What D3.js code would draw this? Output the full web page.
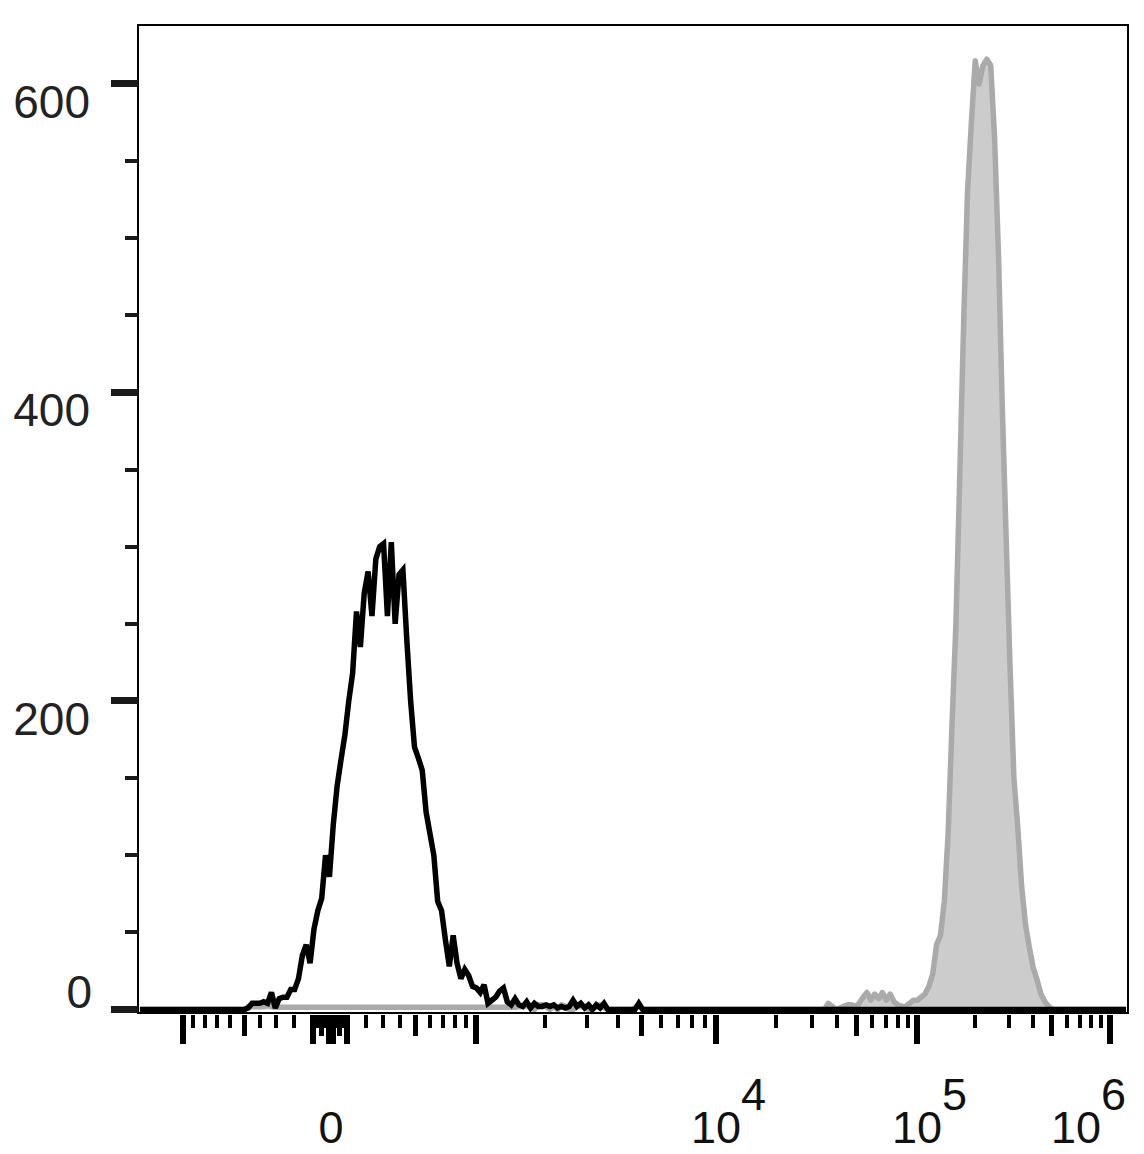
<!DOCTYPE html>
<html><head><meta charset="utf-8">
<script src="https://cdn.jsdelivr.net/npm/d3@7"></script>
<style>body{margin:0;background:#fff}svg{display:block}</style>
</head><body>
<svg id="chart" width="1144" height="1154"></svg>
<script>
// ---------------- data ----------------
const nBins = 256;                 // histogram channels across the display
const blackStart = 27;             // first channel listed for the black (control) histogram
const blackCounts = [0,1,4,4,4,5,4,11,1,7,8,8,13,13,20,35,42,30,52,64,72,100,86,120,145,162,178,200,218,258,235,270,284,255,292,300,302,255,303,250,282,285,240,200,170,163,155,128,114,100,70,64,45,28,48,30,20,26,22,15,14,11,16,4,6,8,12,14,5,3,7,3,2,5,1,4,2,2,3,2,3,1,2,1,2,6,2,4,1,3,0,3,1,4,0,0,0,0,0,0,0,0,4,0];
const grayLowStart = 28;           // stained sample, low-intensity events
const grayLowCounts = [2,2,2,2,2,3,2,1.5,1.5,1.5,1.5,1.5,1.5,1.5,1.5,1.5,1.5,1.5,1.5,1.5,1.5,1.5,1.5,1.5,1.5,1.5,1.5,1.5,1.5,1.5,1.5,1.5,1.5,1.5,1.5,1.5,1.5,1.5,1.5,1.5,1.5,1.5,1.5,1.5,1.5,1.5,1.5,1.5,1.5,1.5,1.5,1.5,1.5,1.5,1.5,1.5,1.5,1.5,1.5,1.5,1.5,1.5,1.5,1.5,1.5,1.5,1.5,1.5,1.5,1.5,2,2,3,1,0,3,3,2,0,2,0,3,2,0,0,2,3,1,0,0,2,3,1,0,0,0,0,0,0,0,1,3,0];
const grayPeakStart = 178;         // stained sample, positive peak
const grayPeakCounts = [4,2,0,1,2,3,3,2,4,8,11,6,10,7,11,6,10,5,3,2,2,4,6,6,8,10,15,23,42,48,70,115,185,250,346,445,530,575,615,600,612,616,612,565,490,390,305,222,150,118,80,55,40,27,19,10,5,2,0];

const yMajorTicks = [0,200,400,600];
const yMinorTicks = [50,100,150,250,300,350,450,500,550];
const xLabelValues = [0,1e4,1e5,1e6];
const xLabelBase = ["0","10","10","10"];
const xLabelExp = ["","4","5","6"];
// biexponential display: anchor decades on the axis
const xAnchorValues = [-1000,-100,0,100,1000,1e4,1e5,1e6];
const xAnchorPixels = [183,313,331,347,476,716,917,1110];

// ---------------- layout ----------------
const plotL = 138, plotR = 1128, plotT = 25, zeroY = 1009.5;
const font = "Arial, 'Liberation Sans', Helvetica, sans-serif";
const svg = d3.select("#chart");

function series(start, counts){
  const arr = new Array(nBins).fill(0);
  counts.forEach((c,i)=>{ arr[start+i] = c; });
  return arr.map((c,i)=>({i, c}));
}
const blackData = series(blackStart, blackCounts);
const grayArr = new Array(nBins).fill(0);
grayLowCounts.forEach((c,i)=>grayArr[grayLowStart+i]=c);
grayPeakCounts.forEach((c,i)=>grayArr[grayPeakStart+i]=c);
const grayData = grayArr.map((c,i)=>({i,c}));

const xBin = d3.scaleLinear().domain([0, nBins]).range([plotL, plotR]);
const y = d3.scaleLinear().domain([0, 638.2]).range([zeroY, plotT]);
const tr = v => Math.asinh(v/600);
const xPoly = d3.scaleLinear().domain(xAnchorValues.map(tr)).range(xAnchorPixels);
const xVal = v => xPoly(tr(v));

// ---------------- histograms ----------------
const area = d3.area().x(d=>xBin(d.i+0.5)).y0(y(0)).y1(d=>y(d.c));
const line = d3.line().x(d=>xBin(d.i+0.5)).y(d=>y(d.c));
svg.append("path").datum(grayData).attr("d", area).attr("fill","#cccccc");
svg.append("path").datum(grayData).attr("d", line).attr("fill","none")
  .attr("stroke","#aaaaaa").attr("stroke-width",5.5).attr("stroke-linejoin","round");
svg.append("path").datum(blackData).attr("d", line).attr("fill","none")
  .attr("stroke","#000").attr("stroke-width",5.5).attr("stroke-linejoin","miter").attr("stroke-miterlimit",3);

// ---------------- frame ----------------
svg.append("rect").attr("x",plotL).attr("y",plotT).attr("width",plotR-plotL).attr("height",1013-plotT)
  .attr("fill","none").attr("stroke","#000").attr("stroke-width",2);

// ---------------- y axis ----------------
const gy = svg.append("g").attr("shape-rendering","crispEdges");
gy.selectAll("line.maj").data(yMajorTicks).join("line")
  .attr("x1",111).attr("x2",plotL).attr("y1",d=>y(d)).attr("y2",d=>y(d))
  .attr("stroke","#1a1a1a").attr("stroke-width",7);
gy.selectAll("line.min").data(yMinorTicks).join("line").attr("class","min")
  .attr("x1",125).attr("x2",plotL).attr("y1",d=>y(d)).attr("y2",d=>y(d))
  .attr("stroke","#1a1a1a").attr("stroke-width",4);
svg.append("g").selectAll("text").data(yMajorTicks).join("text")
  .attr("x", d=> d===0 ? 92 : 90)
  .attr("y", d=> d===0 ? 1008 : y(d)+34)
  .attr("text-anchor","end").attr("font-family",font).attr("font-size",46).attr("fill","#222")
  .text(d=>d);

// ---------------- x axis ----------------
const xTicks = [{v:0,type:"major"}];
for (let k=1;k<=6;k++){
  for (let m=1;m<=9;m++){
    const v = m*Math.pow(10,k);
    if (v>1e6) break;
    const type = m===1 ? "major" : (m===5 ? "medium" : "minor");
    xTicks.push({v,type});
    if (v<=1000) xTicks.push({v:-v,type});
  }
}
const tickLen = {major:29, medium:21, minor:13};
const tickW = {major:6, medium:5, minor:4};
svg.append("g").attr("shape-rendering","crispEdges").selectAll("line").data(xTicks).join("line")
  .attr("x1",d=>xVal(d.v)).attr("x2",d=>xVal(d.v))
  .attr("y1",1015).attr("y2",d=>1015+tickLen[d.type])
  .attr("stroke","#000").attr("stroke-width",d=>tickW[d.type]);

const gl = svg.append("g").attr("font-family",font).attr("font-size",45).attr("fill","#111");
xLabelValues.forEach((v,i)=>{
  const t = gl.append("text").attr("y",1143);
  t.append("tspan").text(xLabelBase[i]);
  if (xLabelExp[i]) t.append("tspan").attr("dy",-33).text(xLabelExp[i]);
  const bb = t.node().getBBox();
  const baseW = t.select("tspan").node().getComputedTextLength();
  let x0 = xVal(v) - baseW/2;
  if (x0 + bb.width > plotR - 2) x0 = plotR - 2 - bb.width;
  t.attr("x", x0);
});
</script>
</body></html>
